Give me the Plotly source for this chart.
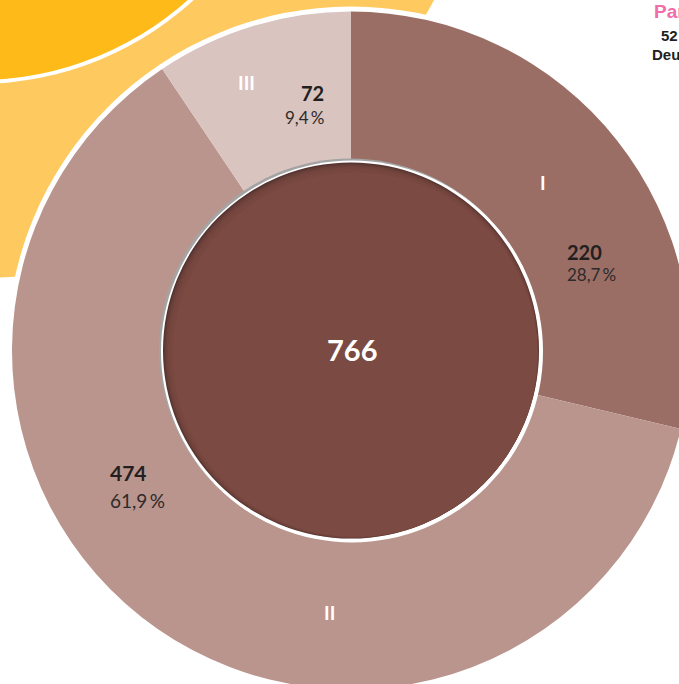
import plotly.graph_objects as go

# --- data -------------------------------------------------------------
categories = ["I", "II", "III"]
counts = [220, 474, 72]
total = sum(counts)

slice_colors = ["#9A6E65", "#BA958D", "#D9C4C0"]

# --- canvas geometry (pixels) ------------------------------------------
W, H = 700, 700
CX, CY = 351, 350.5          # donut centre
R_OUT = 339
R_IN = 191


def px(x):
    return x / W


def py(y):
    return 1 - y / H


def circle(cx, cy, r, fill, opacity=1.0, layer="below"):
    return dict(
        type="circle", xref="paper", yref="paper",
        x0=px(cx - r), x1=px(cx + r), y0=py(cy + r), y1=py(cy - r),
        fillcolor=fill, opacity=opacity, line=dict(width=0), layer=layer,
    )


def pct(v):
    return f"{100 * v / total:.1f}".replace(".", ",") + "\u2009%"


fig = go.Figure()

fig.add_trace(go.Pie(
    labels=categories,
    values=counts,
    sort=False,
    direction="clockwise",
    rotation=0,
    hole=R_IN / R_OUT,
    marker=dict(colors=slice_colors, line=dict(width=0)),
    textinfo="none",
    hoverinfo="skip",
    showlegend=False,
    domain=dict(x=[px(CX - R_OUT), px(CX + R_OUT)],
                y=[py(CY + R_OUT), py(CY - R_OUT)]),
))

shapes = []
# neighbouring yellow donut (partly hidden behind)
YX, YY = -22, -235
shapes.append(circle(YX, YY, 513, "#FEC95F"))
shapes.append(circle(YX, YY, 319, "#FFFFFF"))
shapes.append(circle(YX, YY, 315, "#FDBA19"))
# white outline around the brown donut
shapes.append(circle(CX, CY, R_OUT + 5, "#FFFFFF"))

# centre disc: bevelled rim + soft inner shadow
shapes.append(circle(CX - 1, CY - 1, R_IN, "#A4A4A4", layer="above"))
shapes.append(circle(CX + 1, CY + 1, R_IN, "#FFFFFF", layer="above"))
shapes.append(circle(CX, CY, R_IN - 3, "#553430", layer="above"))
steps = 8
for i in range(1, steps + 1):
    s = 4.0 * i / steps
    shapes.append(circle(CX + s, CY + s, R_IN - 3 - s * 1.414, "#7B4A43",
                         opacity=0.35 if i < steps else 1.0, layer="above"))

annotations = []


def label(x, y, text, size, color="#231F20", weight=700, anchor="center",
          family="Lato"):
    annotations.append(dict(
        x=px(x), y=py(y), xref="paper", yref="paper", text=text,
        showarrow=False, xanchor=anchor, yanchor="middle",
        font=dict(family=family, size=size, color=color, weight=weight),
    ))


# slice names
name_pos = [(543, 182), (329, 612), (246, 83)]
for name, (x, y) in zip(categories, name_pos):
    label(x, y, name, 19, color="#FFFFFF", weight=700)

# counts and shares
value_pos = [(565, 252, 275, "left", 20, 17),
             (108, 472, 500, "left", 21, 19),
             (326, 93, 117, "right", 20, 17)]
for v, (x, y1, y2, anc, s1, s2) in zip(counts, value_pos):
    label(x, y1, str(v), s1, anchor=anc)
    label(x, y2, pct(v), s2, color="#2E2A2B", weight=400, anchor=anc)

# total in the centre
label(352, 349, str(total), 29, color="#FFFFFF", weight=700)

# edge of the next panel
label(652, 12, "Par", 19, color="#F06EA9", anchor="left", family="Liberation Sans")
label(659, 35, "52", 15, anchor="left", family="Liberation Sans")
label(650, 54, "Deu", 15, anchor="left", family="Liberation Sans")

fig.update_layout(
    width=W, height=H,
    margin=dict(l=0, r=0, t=0, b=0),
    paper_bgcolor="#FFFFFF",
    plot_bgcolor="#FFFFFF",
    shapes=shapes,
    annotations=annotations,
    showlegend=False,
)

fig.write_html("out.html")
